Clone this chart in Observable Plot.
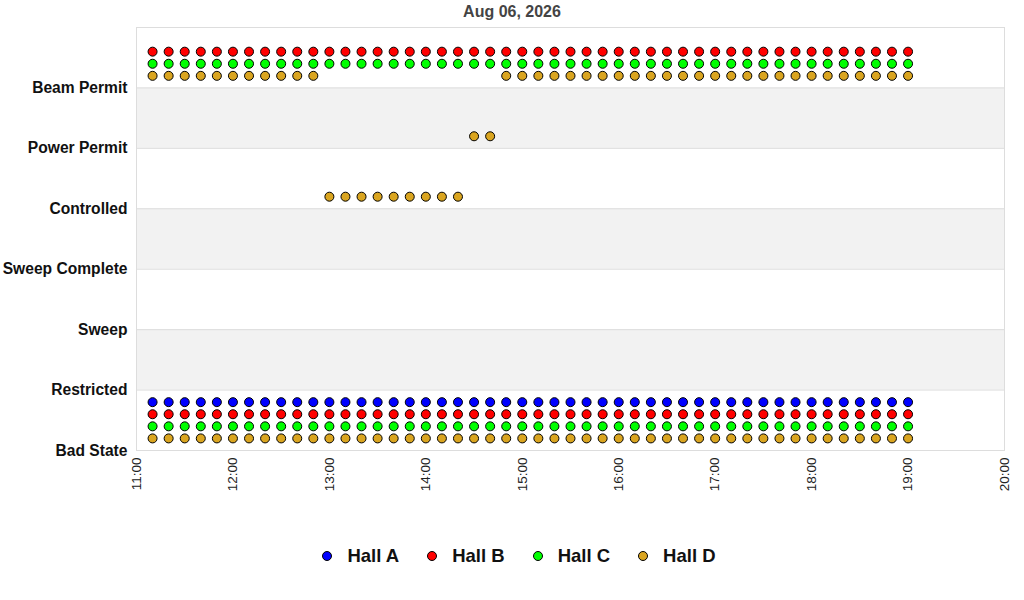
<!DOCTYPE html>
<html>
<head>
<meta charset="utf-8">
<script src="https://cdn.jsdelivr.net/npm/d3@7"></script>
<script src="https://cdn.jsdelivr.net/npm/@observablehq/plot@0.6"></script>
<style>
  body { margin: 0; background: #fff; font-family: "Liberation Sans", Arial, sans-serif; }
  #wrap { position: relative; width: 1024px; height: 600px; }
  #title { position: absolute; top: 3px; left: 0; width: 1024px; text-align: center; font-weight: bold; font-size: 16px; color: #444; }
  #chart { position: absolute; top: 0; left: 0; }
  #legend { position: absolute; top: 545px; left: 7px; width: 1024px; display: flex; justify-content: center; align-items: center; font-weight: bold; font-size: 18.5px; color: #111; }
  .item { display: flex; align-items: center; margin: 0 14px; }
  .sw { width: 10px; height: 10px; border-radius: 50%; border: 1px solid #000; margin-right: 15px; box-sizing: border-box; }
  g[aria-label="y-axis tick label"] text { font-weight: bold; }
</style>
</head>
<body>
<div id="wrap">
  <div id="chart"></div>
  <div id="title">Aug 06, 2026</div>
  <div id="legend"></div>
</div>
<script>
const day = "2026-08-06";
const states = ["Bad State", "Restricted", "Sweep", "Sweep Complete", "Controlled", "Power Permit", "Beam Permit"];
const halls = ["Hall A", "Hall B", "Hall C", "Hall D"];
const hallColors = ["#0000ff", "#ff0000", "#00ff00", "#daa520"];
const hallOffsets = [0.8, 0.6, 0.4, 0.2];
const xTicks = ["11:00","12:00","13:00","14:00","15:00","16:00","17:00","18:00","19:00","20:00"];

const times = [
  "11:10","11:20","11:30","11:40","11:50",
  "12:00","12:10","12:20","12:30","12:40","12:50",
  "13:00","13:10","13:20","13:30","13:40","13:50",
  "14:00","14:10","14:20","14:30","14:40","14:50",
  "15:00","15:10","15:20","15:30","15:40","15:50",
  "16:00","16:10","16:20","16:30","16:40","16:50",
  "17:00","17:10","17:20","17:30","17:40","17:50",
  "18:00","18:10","18:20","18:30","18:40","18:50",
  "19:00"
];

// state index per time (0 = Bad State ... 6 = Beam Permit)
const hallA1 = [0,0,0,0,0, 0,0,0,0,0,0, 0,0,0,0,0,0, 0,0,0,0,0,0, 0,0,0,0,0,0, 0,0,0,0,0,0, 0,0,0,0,0,0, 0,0,0,0,0,0, 0];
const hallB1 = [0,0,0,0,0, 0,0,0,0,0,0, 0,0,0,0,0,0, 0,0,0,0,0,0, 0,0,0,0,0,0, 0,0,0,0,0,0, 0,0,0,0,0,0, 0,0,0,0,0,0, 0];
const hallB2 = [6,6,6,6,6, 6,6,6,6,6,6, 6,6,6,6,6,6, 6,6,6,6,6,6, 6,6,6,6,6,6, 6,6,6,6,6,6, 6,6,6,6,6,6, 6,6,6,6,6,6, 6];
const hallC1 = [0,0,0,0,0, 0,0,0,0,0,0, 0,0,0,0,0,0, 0,0,0,0,0,0, 0,0,0,0,0,0, 0,0,0,0,0,0, 0,0,0,0,0,0, 0,0,0,0,0,0, 0];
const hallC2 = [6,6,6,6,6, 6,6,6,6,6,6, 6,6,6,6,6,6, 6,6,6,6,6,6, 6,6,6,6,6,6, 6,6,6,6,6,6, 6,6,6,6,6,6, 6,6,6,6,6,6, 6];
const hallD1 = [0,0,0,0,0, 0,0,0,0,0,0, 0,0,0,0,0,0, 0,0,0,0,0,0, 0,0,0,0,0,0, 0,0,0,0,0,0, 0,0,0,0,0,0, 0,0,0,0,0,0, 0];
const hallD2 = [6,6,6,6,6, 6,6,6,6,6,6, 4,4,4,4,4,4, 4,4,4,5,5,6, 6,6,6,6,6,6, 6,6,6,6,6,6, 6,6,6,6,6,6, 6,6,6,6,6,6, 6];

const seriesList = [
  {hall: "Hall A", values: hallA1},
  {hall: "Hall B", values: hallB1},
  {hall: "Hall B", values: hallB2},
  {hall: "Hall C", values: hallC1},
  {hall: "Hall C", values: hallC2},
  {hall: "Hall D", values: hallD1},
  {hall: "Hall D", values: hallD2}
];

const toDate = t => new Date(`${day}T${t}:00Z`);
const points = [];
for (const s of seriesList) {
  s.values.forEach((v, i) => points.push({time: toDate(times[i]), state: v, hall: s.hall}));
}
const offsetOf = h => hallOffsets[halls.indexOf(h)];

const bands = [1, 3, 5].map(v => ({y1: v, y2: v + 1}));
const gridVals = [1, 2, 3, 4, 5, 6];

const chart = Plot.plot({
  width: 1024,
  height: 500,
  marginTop: 27,
  marginLeft: 136,
  marginRight: 20,
  marginBottom: 50,
  style: {fontFamily: "Liberation Sans, Arial, sans-serif", background: "#fff"},
  x: {type: "utc", domain: [toDate(xTicks[0]), toDate(xTicks[xTicks.length - 1])]},
  y: {domain: [0, 7]},
  color: {domain: halls, range: hallColors},
  marks: [
    Plot.rect(bands, {y1: "y1", y2: "y2", fill: "#f2f2f2"}),
    Plot.ruleY(gridVals, {stroke: "#dddddd", strokeWidth: 1}),
    Plot.frame({stroke: "#dddddd", strokeWidth: 1}),
    Plot.axisX(xTicks.map(toDate), {
      tickSize: 0, tickPadding: 7, tickRotate: -90,
      tickFormat: d3.utcFormat("%H:%M"),
      fontSize: 13.5, fill: "#222", label: null
    }),
    Plot.axisY([0, 1, 2, 3, 4, 5, 6], {
      tickSize: 0, tickPadding: 9,
      tickFormat: i => states[i],
      fontSize: 15.6, fontWeight: "bold", fill: "#111", label: null
    }),
    Plot.dot(points, {
      x: "time",
      y: d => d.state + offsetOf(d.hall),
      fill: "hall",
      stroke: "#000",
      strokeWidth: 1,
      r: 4.5
    })
  ]
});
document.getElementById("chart").appendChild(chart);

const legend = document.getElementById("legend");
halls.forEach((h, i) => {
  const item = document.createElement("div");
  item.className = "item";
  const sw = document.createElement("span");
  sw.className = "sw";
  sw.style.background = hallColors[i];
  const label = document.createElement("span");
  label.textContent = h;
  item.appendChild(sw);
  item.appendChild(label);
  legend.appendChild(item);
});
</script>
</body>
</html>
